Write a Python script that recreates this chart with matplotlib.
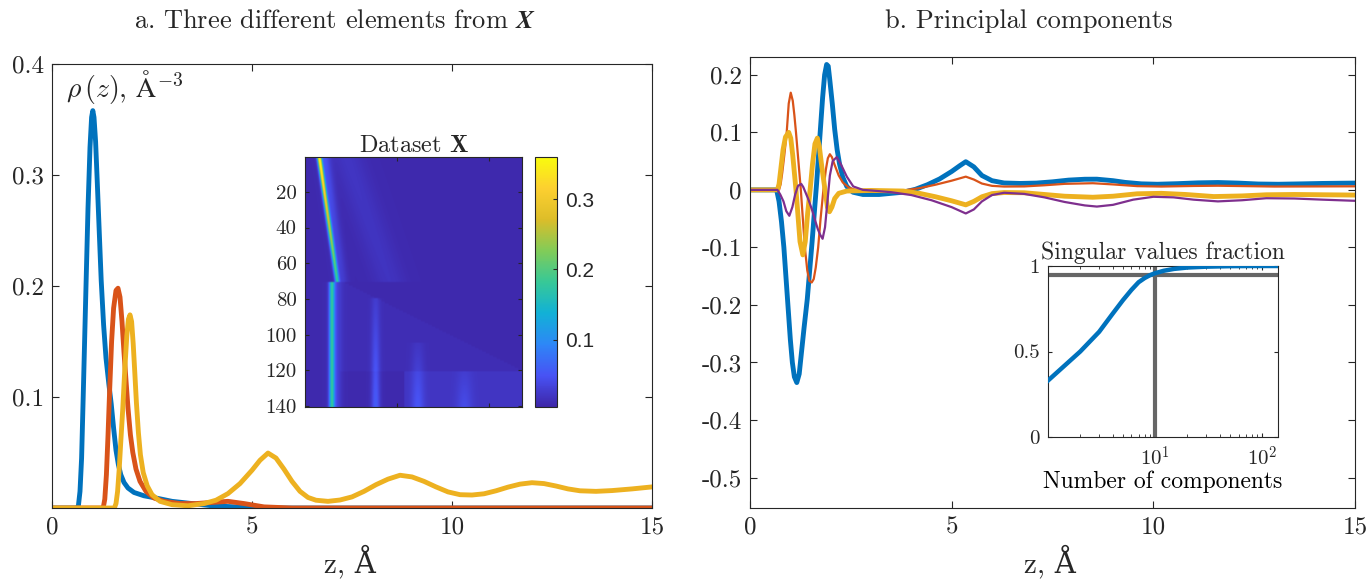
import numpy as np
import matplotlib
matplotlib.use("Agg")
import matplotlib.pyplot as plt
from matplotlib.colors import LinearSegmentedColormap

plt.rcParams['font.family'] = ['cmr10', 'DejaVu Serif']
plt.rcParams['mathtext.fontset'] = 'cm'
plt.rcParams['axes.formatter.use_mathtext'] = True
plt.rcParams['axes.edgecolor'] = '#262626'
plt.rcParams['text.color'] = '#262626'
plt.rcParams['xtick.color'] = '#262626'
plt.rcParams['ytick.color'] = '#262626'
plt.rcParams['xtick.direction'] = 'in'
plt.rcParams['ytick.direction'] = 'in'

# matlab line colours
c_blue, c_orange, c_yellow, c_purple = '#0072BD', '#D95319', '#EDB120', '#7E2F8E'

# ---- panel a: three elements of X (z in A, rho in A^-3)
z_blue = [0, 0.62, 0.66, 0.70, 0.74, 0.78, 0.85, 0.90, 0.95, 0.99, 1.02, 1.05, 1.09, 1.13, 1.18, 1.23, 1.29,
          1.35, 1.42, 1.48, 1.54, 1.60, 1.66, 1.72, 1.80, 1.90, 2.05, 2.30, 2.60, 3.00, 3.50, 4.00, 4.60, 5.20, 15]
rho_blue = [0, 0, 0.002, 0.015, 0.045, 0.10, 0.20, 0.27, 0.325, 0.352, 0.358, 0.352, 0.33, 0.295, 0.25, 0.205, 0.165,
            0.135, 0.112, 0.094, 0.072, 0.052, 0.039, 0.030, 0.023, 0.018, 0.014, 0.011, 0.009, 0.006, 0.004, 0.002,
            0.001, 0, 0]

z_orange = [0, 1.28, 1.32, 1.36, 1.40, 1.44, 1.49, 1.54, 1.60, 1.65, 1.70, 1.75, 1.80, 1.85, 1.90, 1.96, 2.02, 2.10,
            2.20, 2.35, 2.55, 2.80, 3.20, 3.60, 4.00, 4.40, 4.80, 5.30, 6.00, 15]
rho_orange = [0, 0, 0.008, 0.03, 0.065, 0.105, 0.15, 0.18, 0.196, 0.198, 0.19, 0.168, 0.14, 0.115, 0.09, 0.066, 0.05,
              0.035, 0.024, 0.015, 0.009, 0.006, 0.004, 0.004, 0.005, 0.006, 0.004, 0.001, 0, 0]

z_yellow = [0, 1.56, 1.60, 1.64, 1.68, 1.72, 1.77, 1.82, 1.87, 1.91, 1.95, 1.99, 2.03, 2.07, 2.11, 2.16, 2.21, 2.28,
            2.38, 2.50, 2.70, 3.00, 3.40, 3.80, 4.10, 4.40, 4.70, 5.00, 5.20, 5.40, 5.60, 5.80, 6.00, 6.20, 6.40,
            6.60, 6.90, 7.20, 7.50, 7.80, 8.10, 8.40, 8.70, 9.00, 9.30, 9.60, 9.90, 10.2, 10.5, 10.8, 11.1, 11.4,
            11.7, 12.0, 12.3, 12.6, 12.9, 13.2, 13.6, 14.0, 14.5, 15]
rho_yellow = [0, 0, 0.004, 0.015, 0.035, 0.06, 0.09, 0.125, 0.155, 0.17, 0.174, 0.168, 0.148, 0.122, 0.095, 0.068,
              0.048, 0.032, 0.02, 0.012, 0.006, 0.003, 0.002, 0.004, 0.007, 0.013, 0.022, 0.034, 0.043, 0.0495, 0.045,
              0.035, 0.024, 0.015, 0.0095, 0.007, 0.006, 0.0072, 0.010, 0.015, 0.021, 0.026, 0.0295, 0.028, 0.024,
              0.019, 0.0145, 0.012, 0.0117, 0.0128, 0.0155, 0.0188, 0.0215, 0.0228, 0.022, 0.0198, 0.0172, 0.0155,
              0.015, 0.0157, 0.0172, 0.019]

# ---- inset: dataset X as stripes (row range, column at start/end, peak value at start/end, width in columns)
n_rows, n_cols = 140, 1180
stripe_row0 = [1, 1, 1, 71, 71, 80, 105, 121]
stripe_row1 = [70, 70, 70, 140, 140, 140, 140, 140]
stripe_col0 = [79, 105, 230, 147, 165, 385, 614, 868]
stripe_col1 = [176, 200, 460, 147, 165, 385, 614, 868]
stripe_val0 = [0.345, 0.04, 0.012, 0.15, 0.03, 0.015, 0.008, 0.008]
stripe_val1 = [0.16, 0.02, 0.01, 0.15, 0.03, 0.05, 0.032, 0.022]
stripe_sig = [8, 22, 60, 10, 22, 16, 24, 30]
background = 0.008
shelf_value = 0.012   # rows > 120, right part
slope_value = 0.004   # faint wedge under the diagonal

# ---- panel b: principal components
z_pc1 = [0, 0.66, 0.72, 0.78, 0.84, 0.90, 0.95, 1.00, 1.05, 1.10, 1.16, 1.22, 1.28, 1.34, 1.42, 1.48, 1.54, 1.60, 1.65,
         1.70, 1.75, 1.80, 1.85, 1.90, 1.94, 1.98, 2.04, 2.10, 2.16, 2.22, 2.30, 2.40, 2.55, 2.80, 3.20, 3.80, 4.10,
         4.40, 4.70, 5.00, 5.20, 5.35, 5.55, 5.75, 6.00, 6.30, 6.70, 7.10, 7.50, 7.90, 8.30, 8.60, 9.00, 9.30, 9.70,
         10.1, 10.6, 11.1, 11.6, 12.1, 12.6, 13.1, 13.7, 14.2, 14.7, 15]
pc1 = [0, 0, -0.02, -0.055, -0.10, -0.16, -0.21, -0.26, -0.30, -0.325, -0.335, -0.32, -0.28, -0.24, -0.19, -0.14,
       -0.09, -0.035, 0.01, 0.06, 0.11, 0.16, 0.20, 0.218, 0.215, 0.19, 0.15, 0.105, 0.07, 0.045, 0.022, 0.006, -0.004,
       -0.008, -0.008, -0.004, 0.001, 0.009, 0.019, 0.032, 0.042, 0.049, 0.04, 0.025, 0.016, 0.012, 0.0112, 0.0118,
       0.014, 0.017, 0.0185, 0.0186, 0.016, 0.013, 0.0105, 0.0098, 0.0108, 0.0122, 0.0128, 0.0118, 0.0102, 0.0098,
       0.0105, 0.0112, 0.0116, 0.0118]

z_pc2 = [0, 0.72, 0.76, 0.80, 0.85, 0.91, 0.96, 1.01, 1.06, 1.10, 1.14, 1.20, 1.26, 1.31, 1.36, 1.42, 1.47, 1.53, 1.58,
         1.63, 1.69, 1.75, 1.82, 1.88, 1.93, 1.98, 2.03, 2.09, 2.20, 2.30, 2.45, 2.70, 3.20, 3.80, 4.20, 4.60, 5.00,
         5.35, 5.55, 5.75, 6.00, 6.30, 6.80, 7.30, 7.80, 8.50, 9.00, 9.60, 10.2, 11.0, 11.6, 12.3, 13.0, 14.0, 15]
pc2 = [0, 0, 0.01, 0.03, 0.06, 0.10, 0.15, 0.169, 0.155, 0.13, 0.10, 0.05, 0.0, -0.05, -0.10, -0.14, -0.158, -0.161,
       -0.155, -0.135, -0.10, -0.05, 0.0, 0.035, 0.055, 0.062, 0.057, 0.045, 0.025, 0.013, 0.004, -0.002, -0.003,
       -0.001, 0.003, 0.009, 0.016, 0.023, 0.018, 0.011, 0.007, 0.0058, 0.006, 0.008, 0.0105, 0.0116, 0.0095, 0.0065,
       0.0058, 0.0068, 0.0072, 0.0065, 0.0058, 0.006, 0.0062]

z_pc3 = [0, 0.68, 0.72, 0.77, 0.82, 0.88, 0.96, 1.01, 1.06, 1.10, 1.14, 1.19, 1.24, 1.31, 1.37, 1.43, 1.49, 1.55, 1.61,
         1.67, 1.72, 1.78, 1.86, 1.92, 1.97, 2.03, 2.10, 2.20, 2.40, 3.00, 3.80, 4.20, 4.60, 5.00, 5.35, 5.55, 5.75,
         6.00, 6.30, 6.80, 7.30, 7.80, 8.50, 9.00, 9.60, 10.2, 10.8, 11.5, 12.2, 12.8, 13.5, 14.2, 15]
pc3 = [0, 0, 0.01, 0.04, 0.07, 0.092, 0.10, 0.09, 0.06, 0.03, 0.0, -0.045, -0.09, -0.113, -0.09, -0.04, 0.0, 0.045,
       0.08, 0.09, 0.075, 0.04, 0.0, -0.03, -0.038, -0.03, -0.015, -0.006, -0.002, -0.001, -0.002, -0.006, -0.012,
       -0.019, -0.026, -0.02, -0.012, -0.0065, -0.0046, -0.005, -0.008, -0.011, -0.0128, -0.011, -0.0068, -0.006,
       -0.008, -0.0116, -0.0105, -0.0085, -0.008, -0.0085, -0.009]

z_pc4 = [0, 0.68, 0.75, 0.83, 0.90, 0.975, 1.05, 1.12, 1.19, 1.27, 1.32, 1.38, 1.45, 1.53, 1.61, 1.68, 1.74, 1.80,
         1.86, 1.92, 1.98, 2.05, 2.15, 2.25, 2.40, 2.56, 2.80, 3.00, 3.50, 4.00, 4.50, 5.00, 5.35, 5.55, 5.75, 6.00,
         6.30, 6.80, 7.30, 7.80, 8.30, 8.60, 9.00, 9.50, 10.0, 10.5, 11.0, 11.6, 12.2, 12.8, 13.5, 14.2, 15]
pc4 = [0, 0, -0.008, -0.02, -0.037, -0.045, -0.03, -0.008, 0.007, 0.0104, 0.005, -0.005, -0.017, -0.033, -0.052,
       -0.068, -0.078, -0.085, -0.065, -0.02, 0.025, 0.05, 0.057, 0.045, 0.023, 0.006, 0.0, -0.001, -0.004, -0.009,
       -0.018, -0.03, -0.041, -0.034, -0.02, -0.009, -0.005, -0.007, -0.013, -0.021, -0.027, -0.029, -0.026, -0.017,
       -0.012, -0.013, -0.017, -0.02, -0.018, -0.0145, -0.015, -0.017, -0.019]

# ---- inset: cumulative singular value fraction
n_comp = [1, 2, 3, 4, 5, 6, 7, 8, 9, 10, 12, 15, 20, 30, 50, 80, 140]
sv_frac = [0.33, 0.50, 0.615, 0.72, 0.80, 0.86, 0.905, 0.93, 0.947, 0.958, 0.972, 0.983, 0.991, 0.996, 0.999, 1.0, 1.0]
sv_level = 0.95
n_keep = 10

# parula-like colormap
parula = LinearSegmentedColormap.from_list('parula', [
    (0.2422, 0.1504, 0.6603), (0.2810, 0.3228, 0.9579), (0.1786, 0.5289, 0.9682),
    (0.0689, 0.6948, 0.8394), (0.2161, 0.7843, 0.5923), (0.5044, 0.7993, 0.3480),
    (0.8634, 0.7406, 0.1596), (0.9892, 0.8137, 0.1885), (0.9763, 0.9831, 0.0538)])

W, H = 1368, 581
fig = plt.figure(figsize=(W / 100, H / 100), dpi=100)

def box_ticks(ax, size=18):
    ax.tick_params(which='both', top=True, right=True, labelsize=size, pad=6)
    ax.tick_params(which='major', length=5, width=0.8)

# panel a
ax_a = fig.add_axes([52 / W, 1 - 508 / H, 600 / W, 444 / H])
ax_a.plot(z_blue, rho_blue, color=c_blue, lw=3.5)
ax_a.plot(z_orange, rho_orange, color=c_orange, lw=3.5)
ax_a.plot(z_yellow, rho_yellow, color=c_yellow, lw=3.5)
ax_a.set_xlim(0, 15)
ax_a.set_ylim(0, 0.4)
ax_a.set_xticks([0, 5, 10, 15], ['0', '5', '10', '15'])
ax_a.set_yticks([0.1, 0.2, 0.3, 0.4], ['0.1', '0.2', '0.3', '0.4'])
box_ticks(ax_a)
ax_a.text(0.023, 0.99, r'$\rho\,(z)$, $\mathrm{\AA}^{-3}$', transform=ax_a.transAxes,
          ha='left', va='top', fontsize=20)
fig.text(350 / W, 1 - 561 / H, 'z, Å', ha='center', va='center', fontsize=21)
title_a = fig.text(335 / W, 1 - 21 / H, r'a. Three different elements from $\boldsymbol{X}$',
                   ha='center', va='center', fontsize=19)

# heatmap inset
cols = np.arange(1, n_cols + 1)
X = np.full((n_rows, n_cols), background)
for r0, r1, c0, c1, v0, v1, s in zip(stripe_row0, stripe_row1, stripe_col0, stripe_col1,
                                     stripe_val0, stripe_val1, stripe_sig):
    for r in range(r0, r1 + 1):
        t = (r - r0) / max(r1 - r0, 1)
        c = c0 + (c1 - c0) * t
        X[r - 1] += (v0 + (v1 - v0) * t) * np.exp(-0.5 * ((cols - c) / s) ** 2)
X[120:, 540:] += shelf_value
for r in range(71, 121):
    edge = 220 + (r - 71) * 960 / 49
    X[r - 1, (cols > 190) & (cols < edge)] += slope_value

ax_x = fig.add_axes([305 / W, 1 - 407 / H, 217 / W, 250 / H])
im = ax_x.imshow(X, cmap=parula, aspect='auto', vmin=0.004, vmax=0.36,
                 extent=(0.5, n_cols + 0.5, n_rows + 0.5, 0.5), interpolation='bilinear')
ax_x.set_xticks([500, 1000], ['', ''])
ax_x.set_yticks([20, 40, 60, 80, 100, 120, 140], ['20', '40', '60', '80', '100', '120', '140'])
box_ticks(ax_x, 15)
ax_x.tick_params(which='major', length=3)
ax_x.set_title(r'Dataset $\mathbf{X}$', fontsize=17.5, pad=3)

cax = fig.add_axes([535 / W, 1 - 407 / H, 22 / W, 250 / H])
cb = fig.colorbar(im, cax=cax)
cb.set_ticks([0.1, 0.2, 0.3], labels=['0.1', '0.2', '0.3'])
cax.tick_params(direction='in', length=3, labelsize=15, pad=6)
for lab in cax.get_yticklabels():
    lab.set_fontfamily('Liberation Sans')
cb.outline.set_edgecolor('#262626')
cb.outline.set_linewidth(0.8)

# panel b
ax_b = fig.add_axes([750 / W, 1 - 508 / H, 605 / W, 451 / H])
ax_b.plot(z_pc1, pc1, color=c_blue, lw=3.5)
ax_b.plot(z_pc2, pc2, color=c_orange, lw=1.6)
ax_b.plot(z_pc3, pc3, color=c_yellow, lw=3.5)
ax_b.plot(z_pc4, pc4, color=c_purple, lw=1.6)
ax_b.set_xlim(0, 15)
ax_b.set_ylim(-0.553, 0.231)
ax_b.set_xticks([0, 5, 10, 15], ['0', '5', '10', '15'])
yt = [-0.5, -0.4, -0.3, -0.2, -0.1, 0, 0.1, 0.2]
ax_b.set_yticks(yt, ['-0.5', '-0.4', '-0.3', '-0.2', '-0.1', '0', '0.1', '0.2'])
box_ticks(ax_b)
fig.text(1050 / W, 1 - 561 / H, 'z, Å', ha='center', va='center', fontsize=21)
fig.text(1029 / W, 1 - 21 / H, 'b. Principlal components', ha='center', va='center', fontsize=19)

# singular values inset
ax_s = fig.add_axes([1048 / W, 1 - 437 / H, 230 / W, 171 / H])
ax_s.semilogx(n_comp, sv_frac, color=c_blue, lw=3.2, zorder=3)
ax_s.axhline(sv_level, color='#666666', lw=3, zorder=2)
ax_s.axvline(n_keep, color='#666666', lw=3, zorder=2)
ax_s.set_xlim(1, 140)
ax_s.set_ylim(0, 1)
ax_s.set_xticks([10, 100], [r'$10^{1}$', r'$10^{2}$'])
ax_s.set_yticks([0, 0.5, 1], ['0', '0.5', '1'])
box_ticks(ax_s, 15)
ax_s.tick_params(which='major', length=3)
ax_s.tick_params(which='minor', length=2, labelbottom=False)
ax_s.set_title('Singular values fraction', fontsize=17, pad=5)
ax_s.set_xlabel('Number of components', fontsize=17, labelpad=1)

try:
    fig.canvas.draw()
except Exception:
    title_a.set_text(r'a. Three different elements from $\mathbf{X}$')

fig.savefig('out.png', dpi=100)
